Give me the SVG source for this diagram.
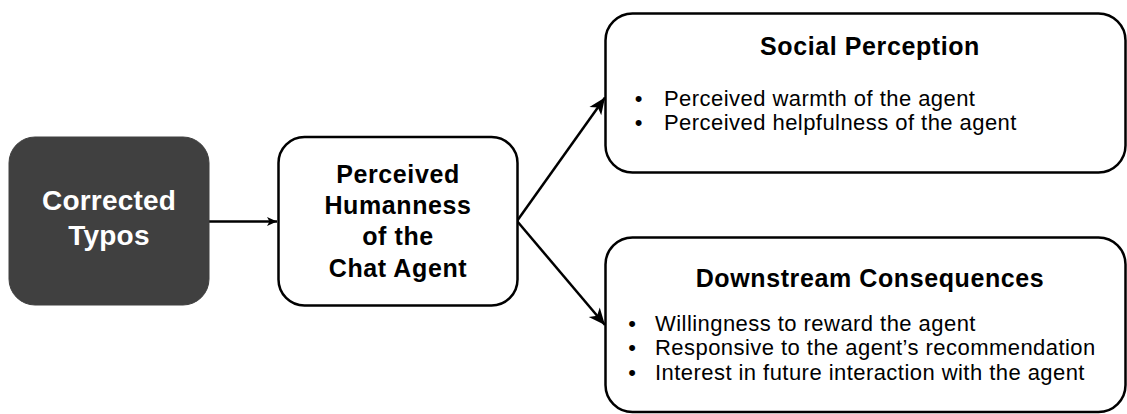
<svg xmlns="http://www.w3.org/2000/svg" width="1127" height="414" viewBox="0 0 1127 414">
<style>
.box{fill:#fff;stroke:#000;stroke-width:2.5}
.dark{fill:#404040;stroke:#404040;stroke-width:1}
.h{font-family:"Liberation Sans",Arial,Helvetica,sans-serif;font-weight:bold;text-anchor:middle}
.b{font-family:"Liberation Sans",Arial,Helvetica,sans-serif;font-size:22px;letter-spacing:0.45px;fill:#000}
.bl{font-family:"Liberation Sans",Arial,Helvetica,sans-serif;font-size:22px;text-anchor:middle;fill:#000}
.conn{stroke:#000;stroke-width:2.5;fill:none}
</style>
<defs>
<marker id="big" markerUnits="userSpaceOnUse" markerWidth="20" markerHeight="20" viewBox="-16 -8 18 16" refX="0" refY="0" orient="auto">
<path d="M0,0 L-15,-6.5 L-11,0 L-15,6.5 Z" fill="#000"/>
</marker>
<marker id="small" markerUnits="userSpaceOnUse" markerWidth="14" markerHeight="12" viewBox="-11 -6 12 12" refX="0" refY="0" orient="auto">
<path d="M0,0 L-10,-4.5 L-7.5,0 L-10,4.5 Z" fill="#000"/>
</marker>
</defs>

<g id="connectors">
<line class="conn" x1="209" y1="221.5" x2="277" y2="221.5" stroke-width="2" marker-end="url(#small)"/>
<line class="conn" x1="517" y1="221" x2="605" y2="97.5" marker-end="url(#big)"/>
<line class="conn" x1="517" y1="221" x2="605" y2="325" marker-end="url(#big)"/>
</g>

<g id="node-corrected-typos">
<rect class="dark" x="9" y="137" width="200" height="168" rx="26" ry="26"/>
<text class="h" x="109" y="210" font-size="28" fill="#fff" letter-spacing="0.2">Corrected</text>
<text class="h" x="109" y="245" font-size="28" fill="#fff" letter-spacing="0.2">Typos</text>
</g>

<g id="node-humanness">
<rect class="box" x="278.5" y="137" width="239" height="168.5" rx="26" ry="26"/>
<text class="h" x="398" y="183" font-size="25" letter-spacing="0.6">Perceived</text>
<text class="h" x="398" y="214" font-size="25" letter-spacing="0.6">Humanness</text>
<text class="h" x="398" y="245" font-size="25" letter-spacing="0.6">of the</text>
<text class="h" x="398" y="277" font-size="25" letter-spacing="0.6">Chat Agent</text>
</g>

<g id="node-social-perception">
<rect class="box" x="605.5" y="13.5" width="520" height="159" rx="27" ry="27"/>
<text class="h" x="870" y="55" font-size="25" letter-spacing="0.6">Social Perception</text>
<text class="bl" x="638.5" y="106">•</text>
<text class="b" x="664" y="106">Perceived warmth of the agent</text>
<text class="bl" x="638.5" y="130">•</text>
<text class="b" x="664" y="130">Perceived helpfulness of the agent</text>
</g>

<g id="node-downstream">
<rect class="box" x="605.5" y="237.5" width="520" height="174.5" rx="27" ry="27"/>
<text class="h" x="870" y="287" font-size="25" letter-spacing="0.6">Downstream Consequences</text>
<text class="bl" x="632" y="331">•</text>
<text class="b" x="655" y="331">Willingness to reward the agent</text>
<text class="bl" x="632" y="355">•</text>
<text class="b" x="655" y="355">Responsive to the agent’s recommendation</text>
<text class="bl" x="632" y="380">•</text>
<text class="b" x="655" y="380">Interest in future interaction with the agent</text>
</g>
</svg>
